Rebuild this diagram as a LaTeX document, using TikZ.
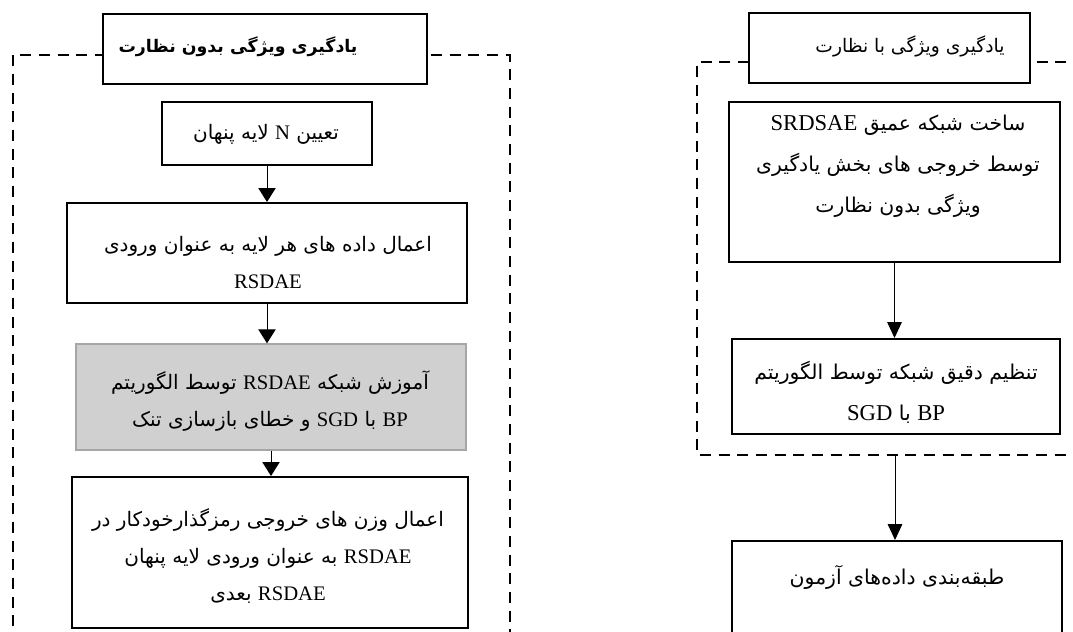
\documentclass[tikz,border=0pt]{standalone}
\usepackage{fontspec}
\setmainfont{Liberation Serif}
\newfontfamily\fa[Script=Arabic]{DejaVu Sans}
\TeXXeTstate=1
\usetikzlibrary{arrows.meta,fit}

% size of Latin runs, set per group of boxes
\newcommand\latsize{15.5}
% Latin run inside right-to-left text
\newcommand\lat[1]{\beginL{\rmfamily\fontsize{\latsize}{20}\selectfont #1}\endL}
% one right-to-left line
\newcommand\rl[1]{\beginR #1\endR}
\newcommand\zw{^^^^200c}

\begin{document}
\begin{tikzpicture}[x=0.75pt,y=-0.75pt,
  box/.style={draw, line width=1.5pt, fill=white, inner sep=0pt},
  titlebox/.style={draw, line width=1.1pt, fill=white, inner sep=0pt},
  graybox/.style={draw={rgb,255:red,166;green,166;blue,166}, line width=1pt,
    fill={rgb,255:red,208;green,208;blue,208}, inner sep=0pt},
  frameline/.style={dash pattern=on 8.25pt off 5.75pt, line width=1.75pt},
  ftxt/.style={align=center, inner sep=0pt,
    font=\renewcommand\latsize{15.5}\fa\fontsize{15}{27.75}\selectfont},
  ftxtR/.style={align=center, inner sep=0pt,
    font=\renewcommand\latsize{17}\fa\fontsize{15.3}{30.75}\selectfont},
  arrL/.style={-{Triangle[width=13pt,length=10.5pt]}, line width=0.75pt},
  arrR/.style={-{Triangle[width=11pt,length=12pt]}, line width=0.75pt}]
\useasboundingbox (0,0) rectangle (1073,631);

% dashed frames of the two stages
\draw[frameline] (13,645) -- (13,55) -- (510,55) -- (510,645);
\draw[frameline] (1085,62) -- (697,62) -- (697,455) -- (1085,455);
\coordinate (cut) at (895,455);

% ---------- unsupervised feature learning ----------
\node[titlebox, fit={(103,14) (427,84)}] (tl) {};
\node[ftxt, font=\fa\bfseries\fontsize{13}{20}\selectfont] (tlt) at (238,47)
  {\rl{یادگیری ویژگی بدون نظارت}};

\node[box, fit={(162,102) (372,165)}] (b1) {};
\node[ftxt] (b1t) at (266,134) {\rl{تعیین \lat{N} لایه پنهان}};

\node[box, fit={(67,203) (467,303)}] (b2) {};
\node[ftxt] (b2t) at (268,263)
  {\rl{اعمال داده های هر لایه به عنوان ورودی}\\ \rl{\lat{RSDAE}}};

\node[graybox, fit={(76,344) (466,450)}] (b3) {};
\node[ftxt] (b3t) at (270,401)
  {\rl{آموزش شبکه \lat{RSDAE} توسط الگوریتم}\\
   \rl{\lat{BP} با \lat{SGD} و خطای بازسازی تنک}};

\node[box, fit={(72,477) (468,628)}] (b4) {};
\node[ftxt] (b4t) at (268,556)
  {\rl{اعمال وزن های خروجی رمزگذارخودکار در}\\
   \rl{\lat{RSDAE} به عنوان ورودی لایه پنهان}\\
   \rl{\lat{RSDAE} بعدی}};

\draw[arrL] (b1.south) -- (b1.south |- b2.north);
\draw[arrL] (b2.south) -- (b2.south |- b3.north);
\draw[arrL] (b3.south) -- (b3.south |- b4.north);

% ---------- supervised feature learning ----------
\node[titlebox, fit={(749,13) (1030,83)}] (tr) {};
\node[ftxt, font=\fa\fontsize{14}{20}\selectfont] (trt) at (910,46)
  {\rl{یادگیری ویژگی با نظارت}};

\node[box, fit={(729,102) (1060,262)}] (r1) {};
\node[ftxtR] (r1t) at (898,166)
  {\rl{ساخت شبکه عمیق \lat{SRDSAE}}\\
   \rl{توسط خروجی های بخش یادگیری}\\
   \rl{ویژگی بدون نظارت}};

\node[box, fit={(732,339) (1060,434)}] (r2) {};
\node[ftxtR] (r2t) at (896,392)
  {\rl{تنظیم دقیق شبکه توسط الگوریتم}\\ \rl{\lat{BP} با \lat{SGD}}};

\node[box, fit={(732,541) (1062,645)}] (r3) {};
\node[ftxtR] (r3t) at (897,577)
  {\rl{طبقه\zw بندی داده\zw های آزمون}};

\draw[arrR] (r1.south) -- (r1.south |- r2.north);
\draw[arrR] (cut) -- (cut |- r3.north);
\end{tikzpicture}
\end{document}
